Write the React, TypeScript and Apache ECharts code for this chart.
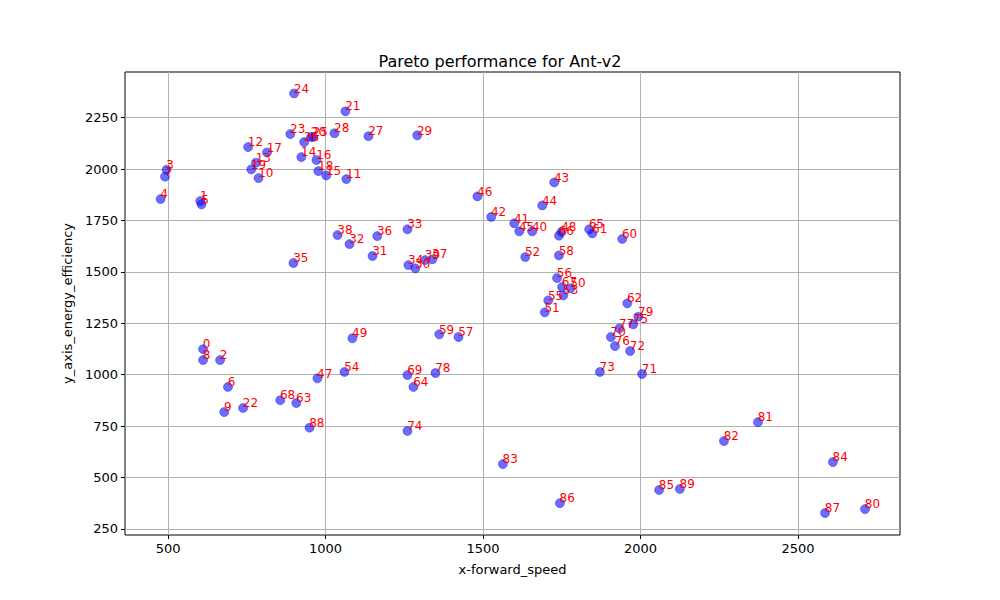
import React, { useEffect, useRef } from "react";
import * as echarts from "echarts";

const ids = [0,1,2,3,4,5,6,7,8,9,10,11,12,13,14,15,16,17,18,19,20,21,22,23,24,25,26,27,28,29,30,31,32,33,34,35,36,37,38,39,40,41,42,43,44,45,46,47,48,49,50,51,52,53,54,55,56,57,58,59,60,61,62,63,64,65,66,67,68,69,70,71,72,73,74,75,76,77,78,79,80,81,82,83,84,85,86,87,88,89];
const xs = [611,602,665,495,476,606,690,490,611,678,787,1066,754,779,923,1002,971,814,977,764,954,1063,738,888,900,960,932,1136,1028,1291,1285,1149,1076,1260,1263,898,1164,1339,1038,1316,1656,1599,1526,1726,1688,1615,1482,974,1749,1085,1778,1696,1634,1755,1060,1707,1735,1422,1741,1361,1942,1847,1958,907,1279,1837,1741,1751,856,1260,1906,2005,1967,1871,1260,1977,1919,1933,1349,1993,2713,2373,2265,1563,2611,2059,1744,2586,949,2125];
const ys = [1124,1844,1071,1997,1854,1828,940,1963,1071,818,1956,1951,2107,2031,2058,1969,2044,2081,1990,1998,2156,2281,838,2170,2368,2156,2131,2160,2174,2164,1517,1577,1635,1707,1533,1543,1674,1561,1679,1557,1697,1736,1767,1935,1823,1697,1867,982,1694,1177,1420,1303,1572,1386,1013,1361,1470,1183,1580,1196,1660,1687,1347,862,940,1707,1676,1426,876,998,1183,1003,1115,1013,726,1245,1139,1225,1008,1282,346,769,677,565,575,439,375,327,742,444];
const xTicks = [500,1000,1500,2000,2500];
const yTicks = [250,500,750,1000,1250,1500,1750,2000,2250];

export default function App() {
  const ref = useRef<HTMLDivElement>(null);
  useEffect(() => {
    const chart = echarts.init(ref.current!, null, { renderer: "svg" });
    const font = "DejaVu Sans";
    const axisCommon = {
      axisLine: { show: false },
      axisTick: { show: true, length: 4, lineStyle: { color: "#000" } },
      splitLine: { show: true, lineStyle: { color: "#b0b0b0", width: 1 } },
      nameTextStyle: { fontFamily: font, fontSize: 13, color: "#000" },
    };
    const lbl = { fontFamily: font, fontSize: 13, color: "#000", margin: 7, formatter: (v: number) => String(v) };
    chart.setOption({
      animation: false,
      title: {
        text: "Pareto performance for Ant-v2",
        left: "center",
        top: 48,
        textStyle: { fontFamily: font, fontSize: 16, fontWeight: "normal", color: "#000" },
      },
      grid: { left: 125, right: 100, top: 72, bottom: 65, show: true, borderColor: "#000", borderWidth: 1, backgroundColor: "transparent" },
      xAxis: {
        type: "value", min: 363, max: 2824,
        name: "x-forward_speed", nameLocation: "middle", nameGap: 28,
        ...axisCommon,
        axisTick: { ...axisCommon.axisTick, customValues: xTicks },
        axisLabel: { ...lbl, customValues: xTicks },
      },
      yAxis: {
        type: "value", min: 220, max: 2472,
        name: "y_axis_energy_efficiency", nameLocation: "middle", nameGap: 50,
        ...axisCommon,
        axisTick: { ...axisCommon.axisTick, customValues: yTicks },
        axisLabel: { ...lbl, customValues: yTicks },
      },
      series: [{
        type: "scatter",
        symbolSize: 9,
        itemStyle: { color: "rgba(10,10,255,0.6)", borderColor: "rgba(0,0,230,0.6)", borderWidth: 0.6, opacity: 1 },
        data: ids.map((id, i) => ({ value: [xs[i], ys[i]], name: String(id) })),
        label: {
          show: true,
          formatter: (p: any) => p.name,
          position: [4.5, 6],
          align: "left",
          verticalAlign: "bottom",
          color: "#ff0000",
          opacity: 1,
          fontFamily: font,
          fontSize: 12,
        },
        labelLayout: { hideOverlap: false },
      }],
    });
    return () => chart.dispose();
  }, []);
  return <div ref={ref} style={{ position: "absolute", left: 0, top: 0, width: 1000, height: 600 }} />;
}
